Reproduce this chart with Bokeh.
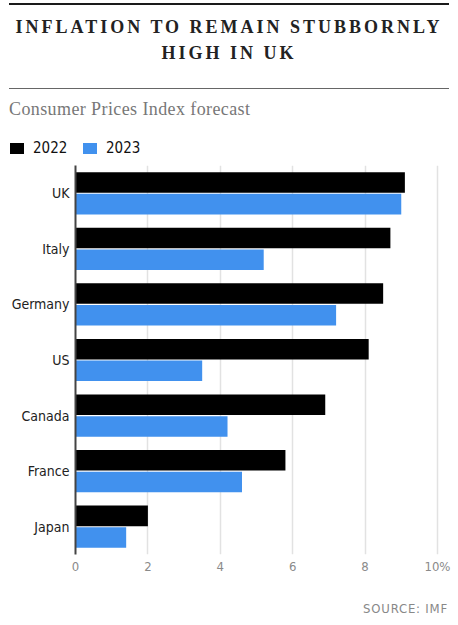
from bokeh.plotting import figure
from bokeh.models import FactorRange, Range1d, FixedTicker, ColumnDataSource, Div
from bokeh.transform import dodge
from bokeh.layouts import column
from bokeh.embed import file_html
from bokeh.resources import INLINE

countries = ["UK", "Italy", "Germany", "US", "Canada", "France", "Japan"]
cpi_2022 = [9.1, 8.7, 8.5, 8.1, 6.9, 5.8, 2.0]
cpi_2023 = [9.0, 5.2, 7.2, 3.5, 4.2, 4.6, 1.4]
x_ticks = [0, 2, 4, 6, 8, 10]
x_tick_labels = {10: "10%"}

title_text = "INFLATION TO REMAIN STUBBORNLY<br>HIGH IN UK"
subtitle_text = "Consumer Prices Index forecast"
source_text = "SOURCE: IMF"
series_names = ["2022", "2023"]
colors = ["#000000", "#4191ee"]

NARROW = "DejaVu Sans Condensed"

header_html = f"""
<div style="position:relative;width:458px;height:160px;margin:0;padding:0;background:#fff;">
  <div style="position:absolute;left:9px;top:3px;width:440px;height:0;border-top:2.5px solid #1a1a1a;"></div>
  <div style="position:absolute;left:0;top:14px;width:458px;text-align:center;font-family:'Liberation Serif',serif;font-weight:bold;font-size:18px;letter-spacing:3px;line-height:26px;color:#222;white-space:nowrap;">{title_text}</div>
  <div style="position:absolute;left:9px;top:88px;width:440px;height:0;border-top:1.5px solid #666;"></div>
  <div style="position:absolute;left:9px;top:100px;font-family:'Liberation Serif',serif;font-size:18px;letter-spacing:0.4px;line-height:18px;color:#777;white-space:nowrap;">{subtitle_text}</div>
  <div style="position:absolute;left:10px;top:143px;width:14px;height:11px;background:{colors[0]};"></div>
  <div style="position:absolute;left:33px;top:141.3px;font-family:'{NARROW}',sans-serif;font-size:15px;line-height:15px;color:#111;white-space:nowrap;">{series_names[0]}</div>
  <div style="position:absolute;left:83px;top:143px;width:14px;height:11px;background:{colors[1]};"></div>
  <div style="position:absolute;left:106px;top:141.3px;font-family:'{NARROW}',sans-serif;font-size:15px;line-height:15px;color:#111;white-space:nowrap;">{series_names[1]}</div>
</div>
"""
header = Div(text=header_html, width=458, height=160, margin=0)

footer_html = f"""
<div style="position:relative;width:458px;height:46px;margin:0;padding:0;background:#fff;">
  <div style="position:absolute;right:10px;top:23.3px;font-family:'{NARROW}',sans-serif;font-size:13px;line-height:13px;letter-spacing:0.8px;color:#888;white-space:nowrap;">{source_text}</div>
</div>
"""
footer = Div(text=footer_html, width=458, height=46, margin=0)

source = ColumnDataSource(dict(country=countries, v2022=cpi_2022, v2023=cpi_2023))

p = figure(
    width=458, height=419,
    y_range=FactorRange(*reversed(countries), range_padding=0),
    x_range=Range1d(0, 10.25),
    output_backend="svg", toolbar_location=None,
    min_border_left=75, min_border_right=12, min_border_top=5, min_border_bottom=25,
    outline_line_color=None, background_fill_color="white", border_fill_color="white",
)

p.hbar(y=dodge("country", 0.195, range=p.y_range), right="v2022", left=0, height=0.37,
       source=source, fill_color=colors[0], line_color=None)
p.hbar(y=dodge("country", -0.195, range=p.y_range), right="v2023", left=0, height=0.37,
       source=source, fill_color=colors[1], line_color=None)

p.xaxis.ticker = FixedTicker(ticks=x_ticks)
p.xaxis.major_label_overrides = x_tick_labels
p.xaxis.axis_line_color = None
p.xaxis.major_tick_line_color = None
p.xaxis.major_tick_out = 0
p.xaxis.major_tick_in = 0
p.xaxis.minor_tick_line_color = None
p.xaxis.major_label_text_color = "#8a8a8a"
p.xaxis.major_label_text_font = NARROW
p.xaxis.major_label_text_font_size = "13px"
p.xaxis.major_label_standoff = 4

p.yaxis.axis_line_color = "#444444"
p.yaxis.axis_line_width = 2
p.yaxis.major_tick_line_color = None
p.yaxis.major_tick_out = 0
p.yaxis.major_tick_in = 0
p.yaxis.minor_tick_line_color = None
p.yaxis.major_label_text_color = "#222222"
p.yaxis.major_label_text_font = NARROW
p.yaxis.major_label_text_font_size = "14px"
p.yaxis.major_label_standoff = 6

p.xgrid.ticker = FixedTicker(ticks=x_ticks)
p.xgrid.grid_line_color = "#e2e2e2"
p.xgrid.grid_line_width = 1.5
p.ygrid.grid_line_color = None

layout = column(header, p, footer, spacing=0, margin=0)

open("out.html", "w").write(file_html(layout, INLINE))
